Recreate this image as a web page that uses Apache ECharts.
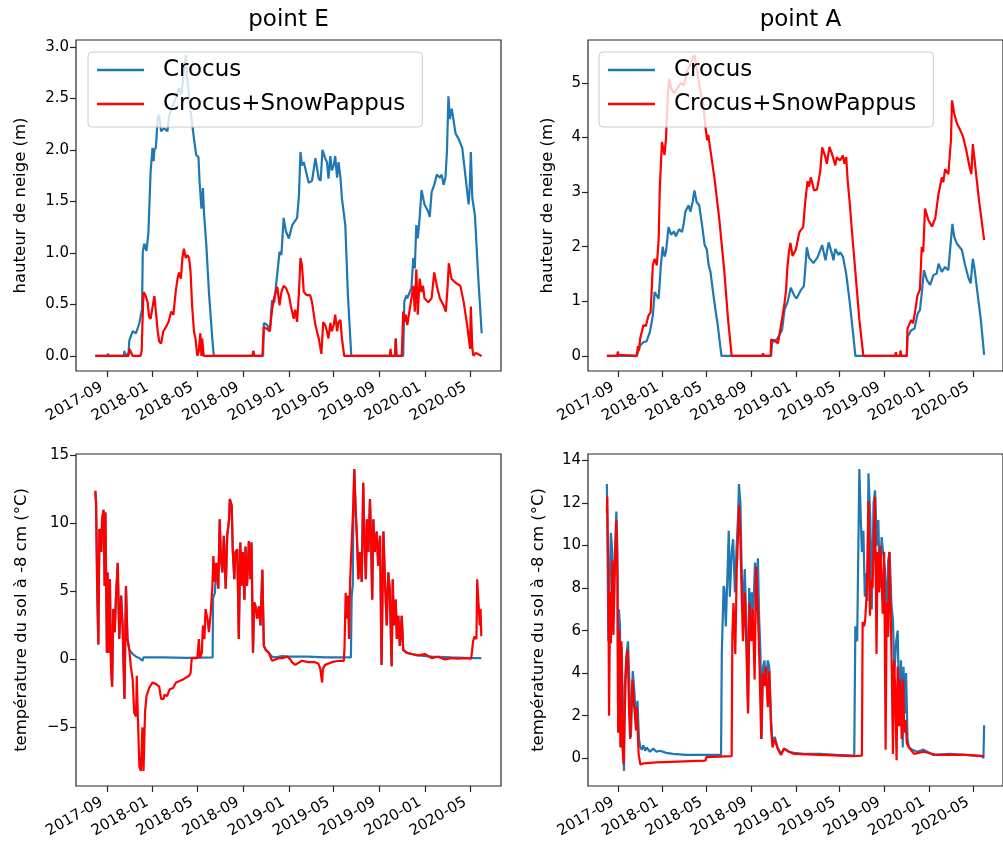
<!DOCTYPE html>
<html><head><meta charset="utf-8">
<script src="https://cdn.jsdelivr.net/npm/echarts@6/dist/echarts.min.js"></script>
<style>html,body{margin:0;padding:0;background:#fff}#c{width:1003px;height:848px}</style>
</head><body><div id="c"></div><script>
// ---- tick labels ----
const xTickLabels = ['2017-09','2018-01','2018-05','2018-09','2019-01','2019-05','2019-09','2020-01','2020-05'];
const yTicksSnowE = [0,0.5,1,1.5,2,2.5,3];
const yTicksSnowA = [0,1,2,3,4,5];
const yTicksTempE = [-5,0,5,10,15];
const yTicksTempA = [0,2,4,6,8,10,12,14];
const titles = ['point E','point A'];
const seriesNames = ['Crocus','Crocus+SnowPappus'];
const yLabelSnow = 'hauteur de neige (m)';
const yLabelTemp = 'température du sol à -8 cm (°C)';

// ---- snow depth, point E ----
const snowE_crocus = [['2017-08-01',0],['2017-09-01',0],['2017-09-04',0.02],['2017-09-07',0],['2017-10-16',0],['2017-10-18',0.05],['2017-10-20',0],['2017-10-29',0.03],['2017-10-31',0.15],['2017-11-05',0.2],['2017-11-09',0.24],['2017-11-18',0.22],['2017-11-27',0.32],['2017-12-01',0.4],['2017-12-04',0.45],['2017-12-06',1.01],['2017-12-10',1.09],['2017-12-16',1.02],['2017-12-21',1.19],['2017-12-27',1.79],['2018-01-01',2.02],['2018-01-04',1.89],['2018-01-06',2.0],['2018-01-10',2.02],['2018-01-15',2.31],['2018-01-19',2.34],['2018-01-24',2.18],['2018-02-01',2.21],['2018-02-10',2.18],['2018-02-15',2.34],['2018-02-23',2.41],['2018-03-04',2.5],['2018-03-13',2.6],['2018-03-20',2.54],['2018-03-26',2.76],['2018-03-31',2.92],['2018-04-04',2.7],['2018-04-13',2.37],['2018-04-22',2.11],['2018-04-28',1.95],['2018-05-04',1.93],['2018-05-07',1.69],['2018-05-12',1.43],['2018-05-16',1.63],['2018-05-19',1.38],['2018-05-25',1.08],['2018-06-01',0.62],['2018-06-10',0.17],['2018-06-14',0],
['2018-09-26',0],['2018-09-28',0.05],['2018-09-30',0],['2018-10-24',0],['2018-10-26',0.32],['2018-11-04',0.3],['2018-11-11',0.24],['2018-11-17',0.54],['2018-11-23',0.52],['2018-12-01',0.8],['2018-12-07',1.01],['2018-12-12',0.98],['2018-12-18',1.34],['2018-12-24',1.21],['2019-01-01',1.14],['2019-01-10',1.27],['2019-01-23',1.34],['2019-01-28',1.56],['2019-02-01',1.98],['2019-02-05',1.85],['2019-02-10',1.88],['2019-02-23',1.68],['2019-03-04',1.7],['2019-03-13',1.92],['2019-03-22',1.72],['2019-03-27',1.7],['2019-04-01',2.0],['2019-04-08',1.92],['2019-04-13',1.88],['2019-04-17',1.72],['2019-04-22',1.94],['2019-04-26',1.8],['2019-05-01',1.85],['2019-05-05',1.94],['2019-05-10',1.73],['2019-05-14',1.88],['2019-05-19',1.73],['2019-05-23',1.53],['2019-06-01',1.27],['2019-06-08',0.59],['2019-06-17',0],
['2019-10-12',0],['2019-10-14',0.17],['2019-10-16',0],['2019-11-03',0],['2019-11-06',0.53],['2019-11-12',0.59],['2019-11-14',0.56],['2019-11-25',0.66],['2019-11-30',0.95],['2019-12-04',0.85],['2019-12-08',1.27],['2019-12-12',1.14],['2019-12-17',1.34],['2019-12-22',1.61],['2019-12-30',1.47],['2020-01-09',1.4],['2020-01-13',1.35],['2020-01-18',1.59],['2020-01-25',1.66],['2020-02-01',1.76],['2020-02-09',1.73],['2020-02-14',1.76],['2020-02-19',1.66],['2020-02-24',1.73],['2020-02-28',1.98],['2020-03-03',2.52],['2020-03-07',2.3],['2020-03-12',2.4],['2020-03-22',2.16],['2020-03-31',2.1],['2020-04-09',2.02],['2020-04-18',1.73],['2020-04-26',1.47],['2020-04-29',1.63],['2020-05-02',1.98],['2020-05-06',1.53],['2020-05-13',1.36],['2020-05-22',0.75],['2020-05-31',0.22]];
const snowE_pappus = [['2017-08-01',0],['2017-10-29',0],['2017-10-31',0.07],['2017-11-09',0],['2017-11-30',0],['2017-12-03',0.05],['2017-12-05',0.3],['2017-12-08',0.62],['2017-12-13',0.59],['2017-12-19',0.52],['2017-12-23',0.38],['2017-12-27',0.36],['2018-01-01',0.37],['2018-01-06',0.58],['2018-01-10',0.57],['2018-01-15',0.24],['2018-01-19',0.14],['2018-01-24',0.12],['2018-01-30',0.24],['2018-02-06',0.28],['2018-02-13',0.33],['2018-02-20',0.43],['2018-02-26',0.4],['2018-03-04',0.62],['2018-03-09',0.75],['2018-03-13',0.81],['2018-03-18',0.75],['2018-03-22',0.95],['2018-03-26',1.04],['2018-03-31',0.95],['2018-04-04',0.98],['2018-04-09',0.95],['2018-04-13',0.81],['2018-04-17',0.49],['2018-04-22',0.24],['2018-04-26',0.17],['2018-05-01',0],['2018-05-05',0.05],['2018-05-09',0.22],['2018-05-12',0],['2018-05-14',0.17],['2018-05-18',0],
['2018-09-26',0],['2018-09-28',0.05],['2018-09-30',0],['2018-10-22',0],['2018-10-26',0.28],['2018-11-04',0.26],['2018-11-11',0.24],['2018-11-17',0.45],['2018-11-23',0.57],['2018-12-01',0.67],['2018-12-07',0.49],['2018-12-12',0.62],['2018-12-18',0.68],['2018-12-24',0.66],['2019-01-01',0.59],['2019-01-06',0.49],['2019-01-14',0.36],['2019-01-18',0.45],['2019-01-23',0.33],['2019-01-28',0.62],['2019-02-01',0.95],['2019-02-05',0.88],['2019-02-10',0.62],['2019-02-18',0.59],['2019-02-27',0.59],['2019-03-04',0.52],['2019-03-13',0.3],['2019-03-22',0.17],['2019-03-29',0.02],['2019-04-03',0.33],['2019-04-08',0.3],['2019-04-13',0.24],['2019-04-17',0.17],['2019-04-22',0.32],['2019-04-26',0.24],['2019-05-01',0.3],['2019-05-05',0.4],['2019-05-10',0.24],['2019-05-14',0.33],['2019-05-19',0.35],['2019-05-23',0.17],['2019-05-29',0],
['2019-09-28',0],['2019-09-30',0.07],['2019-10-02',0],['2019-10-12',0],['2019-10-14',0.17],['2019-10-16',0],['2019-10-30',0],['2019-11-03',0.43],['2019-11-06',0.33],['2019-11-10',0.4],['2019-11-14',0.3],['2019-11-22',0.49],['2019-11-30',0.68],['2019-12-04',0.43],['2019-12-08',0.84],['2019-12-12',0.4],['2019-12-17',0.75],['2019-12-22',0.62],['2019-12-26',0.68],['2019-12-30',0.56],['2020-01-09',0.52],['2020-01-18',0.56],['2020-01-25',0.81],['2020-02-01',0.68],['2020-02-09',0.56],['2020-02-19',0.49],['2020-02-25',0.43],['2020-03-01',0.68],['2020-03-04',0.9],['2020-03-11',0.75],['2020-03-22',0.71],['2020-04-04',0.68],['2020-04-13',0.52],['2020-04-22',0.3],['2020-04-30',0.07],['2020-05-01',0.3],['2020-05-02',0.48],['2020-05-06',0.07],['2020-05-09',0],['2020-05-15',0.03],['2020-05-31',0]];

// ---- snow depth, point A ----
const snowA_crocus = [['2017-08-01',0],['2017-10-22',0],['2017-10-31',0.19],['2017-11-09',0.25],['2017-11-18',0.27],['2017-11-27',0.44],['2017-12-05',0.74],['2017-12-10',1.17],['2017-12-16',1.1],['2017-12-21',1.05],['2017-12-27',1.66],['2018-01-01',2.0],['2018-01-06',1.82],['2018-01-10',1.9],['2018-01-17',2.36],['2018-01-24',2.22],['2018-02-01',2.28],['2018-02-06',2.19],['2018-02-15',2.32],['2018-02-23',2.27],['2018-02-28',2.44],['2018-03-04',2.64],['2018-03-13',2.76],['2018-03-18',2.64],['2018-03-24',2.82],['2018-03-29',3.03],['2018-04-04',2.82],['2018-04-11',2.76],['2018-04-19',2.39],['2018-04-26',2.03],['2018-05-02',1.95],['2018-05-07',1.66],['2018-05-12',1.54],['2018-05-19',1.17],['2018-05-25',0.87],['2018-06-01',0.56],['2018-06-11',0],
['2018-10-25',0],['2018-10-28',0.25],['2018-11-10',0.3],['2018-11-24',0.47],['2018-12-01',0.85],['2018-12-09',0.98],['2018-12-18',1.25],['2018-12-28',1.1],['2019-01-03',1.05],['2019-01-14',1.2],['2019-01-23',1.28],['2019-01-27',1.62],['2019-01-31',1.99],['2019-02-06',1.8],['2019-02-18',1.7],['2019-03-01',1.8],['2019-03-14',2.03],['2019-03-23',1.75],['2019-04-01',2.08],['2019-04-10',1.87],['2019-04-14',1.75],['2019-04-19',1.96],['2019-04-28',1.85],['2019-05-02',1.9],['2019-05-10',1.82],['2019-05-19',1.5],['2019-05-28',1.02],['2019-06-06',0.47],['2019-06-13',0],
['2019-11-01',0],['2019-11-03',0.35],['2019-11-13',0.47],['2019-11-22',0.5],['2019-12-01',0.78],['2019-12-07',0.84],['2019-12-12',1.14],['2019-12-18',1.57],['2019-12-26',1.39],['2020-01-04',1.3],['2020-01-13',1.48],['2020-01-22',1.51],['2020-01-27',1.69],['2020-02-05',1.54],['2020-02-14',1.63],['2020-02-23',1.57],['2020-03-01',2.12],['2020-03-05',2.42],['2020-03-10',2.18],['2020-03-17',2.06],['2020-03-31',1.94],['2020-04-08',1.69],['2020-04-17',1.45],['2020-04-24',1.33],['2020-04-30',1.78],['2020-05-04',1.63],['2020-05-13',1.14],['2020-05-22',0.66],['2020-05-31',0.02]];
const snowA_pappus = [['2017-08-01',0],['2017-08-29',0],['2017-08-31',0.08],['2017-09-02',0.02],['2017-09-06',0],['2017-10-22',0],['2017-10-25',0.18],['2017-10-28',0.1],['2017-10-31',0.31],['2017-11-09',0.56],['2017-11-16',0.55],['2017-11-23',0.74],['2017-11-29',0.8],['2017-12-05',1.66],['2017-12-10',1.78],['2017-12-16',1.66],['2017-12-21',2.15],['2017-12-24',3.06],['2017-12-30',3.92],['2018-01-06',3.68],['2018-01-10',3.98],['2018-01-15',4.77],['2018-01-19',5.08],['2018-01-24',4.9],['2018-02-01',4.81],['2018-02-10',4.9],['2018-02-20',5.0],['2018-02-28',4.95],['2018-03-09',5.22],['2018-03-18',5.34],['2018-03-24',5.45],['2018-03-29',5.51],['2018-04-04',5.27],['2018-04-13',4.9],['2018-04-22',4.6],['2018-04-28',4.2],['2018-05-03',3.95],['2018-05-06',4.05],['2018-05-10',3.85],['2018-05-23',3.25],['2018-06-05',2.51],['2018-06-19',1.54],['2018-06-29',0.68],['2018-07-09',0],
['2018-10-01',0],['2018-10-03',0.05],['2018-10-05',0],['2018-10-24',0],['2018-10-25',0.3],['2018-11-04',0.28],['2018-11-13',0.23],['2018-11-22',0.59],['2018-11-26',0.57],['2018-12-01',0.97],['2018-12-05',1.2],['2018-12-09',1.64],['2018-12-13',1.9],['2018-12-17',2.07],['2018-12-23',1.83],['2019-01-01',1.95],['2019-01-10',2.25],['2019-01-14',2.3],['2019-01-21',2.36],['2019-01-27',2.85],['2019-02-02',3.2],['2019-02-06',3.1],['2019-02-11',3.27],['2019-02-20',3.03],['2019-02-28',3.05],['2019-03-09',3.39],['2019-03-14',3.82],['2019-03-23',3.64],['2019-03-27',3.52],['2019-04-03',3.83],['2019-04-10',3.7],['2019-04-19',3.49],['2019-04-23',3.64],['2019-05-02',3.58],['2019-05-10',3.67],['2019-05-14',3.52],['2019-05-19',3.64],['2019-05-23',3.21],['2019-05-28',2.85],['2019-06-06',2.1],['2019-06-15',1.39],['2019-06-24',0.66],['2019-07-05',0],
['2019-09-30',0],['2019-10-02',0.07],['2019-10-04',0],['2019-10-13',0],['2019-10-15',0.1],['2019-10-17',0],['2019-11-01',0],['2019-11-03',0.5],['2019-11-13',0.66],['2019-11-18',0.6],['2019-11-23',0.78],['2019-11-30',1.1],['2019-12-07',1.22],['2019-12-12',2.0],['2019-12-16',1.9],['2019-12-21',2.7],['2019-12-30',2.49],['2020-01-09',2.37],['2020-01-18',2.52],['2020-01-27',2.97],['2020-02-05',3.27],['2020-02-09',3.18],['2020-02-14',3.42],['2020-02-23',3.33],['2020-03-01',3.95],['2020-03-04',4.68],['2020-03-10',4.44],['2020-03-17',4.26],['2020-03-26',4.14],['2020-04-03',4.02],['2020-04-12',3.77],['2020-04-21',3.46],['2020-04-26',3.33],['2020-04-30',3.88],['2020-05-04',3.64],['2020-05-10',3.27],['2020-05-17',2.85],['2020-05-31',2.12]];

// ---- soil temperature, point E (segments where both runs coincide are shared) ----
const tempE_summer2017 = [['2017-08-01',12.4],['2017-08-03',11.5],['2017-08-06',5.4],['2017-08-09',1.1],['2017-08-12',9.6],['2017-08-17',7.9],['2017-08-19',10.3],['2017-08-23',11.0],['2017-08-26',5.4],['2017-08-28',10.8],['2017-09-01',0.5],['2017-09-03',6.4],['2017-09-06',0.5],['2017-09-09',5.9],['2017-09-12',-0.5],['2017-09-15',-2.0],['2017-09-18',3.7],['2017-09-22',2.0],['2017-09-25',4.4],['2017-09-30',7.1],['2017-10-04',1.5],['2017-10-09',4.7],['2017-10-13',2.5],['2017-10-18',-2.9],['2017-10-22',5.4],['2017-10-26',1.5],['2017-10-31',0.7]];
const tempE_crocus_winter2018 = [['2017-11-04',0.6],['2017-11-09',0.4],['2017-11-18',0.2],['2017-11-27',0.1],['2017-12-01',0.0],['2017-12-05',-0.1],['2017-12-08',0.15],['2018-02-01',0.15],['2018-04-01',0.12],['2018-06-11',0.15],['2018-06-12',4.5],['2018-06-17',4.9]];
const tempE_pappus_winter2018 = [['2017-11-04',-0.5],['2017-11-09',-1.5],['2017-11-13',-3.9],['2017-11-18',-4.2],['2017-11-20',-1.2],['2017-11-23',-4.4],['2017-11-27',-7.9],['2017-12-01',-8.2],['2017-12-05',-5.0],['2017-12-08',-8.2],['2017-12-12',-3.9],['2017-12-16',-2.7],['2017-12-23',-2.1],['2018-01-01',-1.7],['2018-01-10',-1.8],['2018-01-19',-2.0],['2018-01-24',-2.9],['2018-01-31',-2.9],['2018-02-02',-2.6],['2018-02-09',-2.7],['2018-02-16',-2.2],['2018-02-25',-2.1],['2018-03-05',-1.7],['2018-03-22',-1.5],['2018-04-09',-1.2],['2018-04-13',-1.0],['2018-04-16',0.1],['2018-05-01',0.1],['2018-05-05',1.5],['2018-05-08',0.1],['2018-05-13',0.5],['2018-05-16',2.5],['2018-05-20',1.5],['2018-05-23',3.7],['2018-05-28',3.0],['2018-06-01',2.0],['2018-06-06',3.5],['2018-06-10',5.2],['2018-06-13',7.6],['2018-06-17',5.7]];
const tempE_summer2018 = [['2018-06-21',7.1],['2018-06-26',5.2],['2018-06-30',10.3],['2018-07-03',7.4],['2018-07-07',6.4],['2018-07-11',9.1],['2018-07-16',5.2],['2018-07-20',9.1],['2018-07-25',10.3],['2018-07-27',11.8],['2018-08-01',11.3],['2018-08-04',7.9],['2018-08-08',5.9],['2018-08-11',7.9],['2018-08-16',8.1],['2018-08-20',1.5],['2018-08-24',8.6],['2018-08-27',5.4],['2018-08-31',7.9],['2018-09-04',4.4],['2018-09-07',8.3],['2018-09-11',5.4],['2018-09-16',8.7],['2018-09-20',5.9],['2018-09-23',8.6],['2018-09-27',0.5],['2018-09-30',4.2],['2018-10-04',3.9],['2018-10-08',3.0],['2018-10-13',3.9],['2018-10-17',2.5],['2018-10-22',6.6],['2018-10-26',1.0],['2018-10-31',0.7],['2018-11-08',0.5]];
const tempE_crocus_winter2019 = [['2018-11-17',0.2],['2018-11-26',0.15],['2018-12-14',0.25],['2019-01-05',0.2],['2019-02-20',0.2],['2019-04-10',0.15],['2019-06-16',0.15],['2019-06-18',4.6],['2019-06-21',5.5]];
const tempE_pappus_winter2019 = [['2018-11-17',-0.1],['2018-11-26',0.0],['2018-12-05',0.1],['2018-12-14',0.1],['2018-12-28',0.2],['2019-01-05',0.0],['2019-01-09',-0.2],['2019-01-18',-0.4],['2019-02-05',-0.1],['2019-02-22',-0.2],['2019-03-12',-0.2],['2019-03-21',-0.3],['2019-03-26',-0.7],['2019-03-31',-1.7],['2019-04-02',-0.7],['2019-04-08',-0.4],['2019-04-26',-0.2],['2019-05-14',-0.1],['2019-05-28',-0.1],['2019-05-30',1.0],['2019-06-02',4.9],['2019-06-05',3.0],['2019-06-08',4.7],['2019-06-11',1.5],['2019-06-14',5.9],['2019-06-18',5.9]];
const tempE_summer2019 = [['2019-06-23',11.8],['2019-06-25',14.0],['2019-06-29',10.8],['2019-07-02',9.1],['2019-07-06',5.9],['2019-07-10',7.9],['2019-07-15',5.7],['2019-07-19',13.0],['2019-07-22',9.1],['2019-07-26',5.9],['2019-07-29',10.3],['2019-08-02',7.9],['2019-08-06',11.8],['2019-08-09',8.8],['2019-08-12',4.4],['2019-08-15',10.3],['2019-08-19',7.9],['2019-08-24',9.4],['2019-08-28',6.9],['2019-09-02',9.1],['2019-09-06',-0.4],['2019-09-11',9.4],['2019-09-15',5.9],['2019-09-20',2.5],['2019-09-24',6.4],['2019-09-28',5.2],['2019-10-03',-0.5],['2019-10-06',5.9],['2019-10-09',2.5],['2019-10-14',4.4],['2019-10-17',1.5],['2019-10-21',3.2],['2019-10-25',1.0],['2019-10-30',3.2],['2019-11-03',0.7]];
const tempE_crocus_winter2020 = [['2019-11-12',0.5],['2019-11-25',0.4],['2019-12-13',0.3],['2020-01-18',0.2],['2020-03-11',0.15],['2020-04-15',0.12],['2020-05-30',0.1]];
const tempE_pappus_winter2020 = [['2019-11-12',0.5],['2019-11-25',0.4],['2019-12-13',0.3],['2019-12-31',0.4],['2020-01-18',0.1],['2020-02-04',0.2],['2020-02-22',0.0],['2020-03-11',0.1],['2020-03-29',0.05],['2020-04-15',0.1],['2020-05-03',0.05],['2020-05-08',1.35],['2020-05-12',1.7],['2020-05-17',1.5],['2020-05-19',5.9],['2020-05-23',3.9],['2020-05-26',2.5],['2020-05-28',3.7],['2020-05-30',1.7]];

// ---- soil temperature, point A ----
const tempA_crocus = [['2017-08-01',12.9],['2017-08-02',11.55],['2017-08-05',5.5],['2017-08-12',10.6],['2017-08-16',9.7],['2017-08-19',6.5],['2017-08-23',9.3],['2017-08-27',11.6],['2017-08-30',9.7],['2017-09-01',1.5],['2017-09-03',7.0],['2017-09-06',6.2],['2017-09-08',1.2],['2017-09-11',5.2],['2017-09-14',0.9],['2017-09-17',-0.6],['2017-09-19',3.4],['2017-09-24',4.9],['2017-09-28',5.5],['2017-10-02',3.4],['2017-10-06',1.0],['2017-10-11',4.1],['2017-10-15',3.2],['2017-10-20',1.8],['2017-10-24',2.7],['2017-10-28',0.9],['2017-11-01',0.5],['2017-11-05',0.4],['2017-11-09',0.6],['2017-11-14',0.35],['2017-11-18',0.5],['2017-11-27',0.3],['2017-12-06',0.45],['2017-12-15',0.3],['2017-12-24',0.35],['2018-01-11',0.25],['2018-01-29',0.2],['2018-03-06',0.15],['2018-04-20',0.15],['2018-06-10',0.15],['2018-06-12',4.9],['2018-06-17',8.1],['2018-06-19',8.0],['2018-06-23',6.2],['2018-06-28',8.9],['2018-07-01',10.7],['2018-07-04',7.6],['2018-07-09',9.7],['2018-07-13',10.3],['2018-07-18',7.8],['2018-07-22',9.7],['2018-07-27',11.55],['2018-07-29',12.9],['2018-08-02',12.0],['2018-08-05',9.2],['2018-08-09',6.8],['2018-08-14',8.9],['2018-08-18',6.5],['2018-08-23',2.3],['2018-08-26',8.0],['2018-08-30',6.5],['2018-09-02',7.8],['2018-09-06',6.7],['2018-09-11',9.2],['2018-09-14',7.8],['2018-09-19',9.4],['2018-09-22',6.8],['2018-09-26',4.9],['2018-09-29',0.9],['2018-10-03',4.3],['2018-10-07',4.6],['2018-10-11',3.4],['2018-10-16',4.6],['2018-10-20',4.3],['2018-10-25',1.8],['2018-10-29',0.7],['2018-11-04',1.0],['2018-11-12',0.5],['2018-11-21',0.2],['2018-11-30',0.45],['2018-12-13',0.3],['2018-12-27',0.25],['2019-01-22',0.2],['2019-03-08',0.2],['2019-04-22',0.15],['2019-06-10',0.12],['2019-06-13',6.2],['2019-06-18',5.5],['2019-06-24',13.6],['2019-06-28',11.2],['2019-07-01',9.7],['2019-07-05',10.7],['2019-07-09',7.6],['2019-07-12',8.7],['2019-07-16',7.4],['2019-07-19',13.4],['2019-07-24',11.2],['2019-07-28',7.0],['2019-08-02',12.0],['2019-08-06',12.6],['2019-08-11',10.0],['2019-08-15',11.2],['2019-08-19',8.0],['2019-08-24',10.4],['2019-08-28',9.7],['2019-09-02',8.9],['2019-09-06',6.5],['2019-09-11',9.3],['2019-09-15',9.7],['2019-09-20',7.2],['2019-09-24',6.5],['2019-09-28',4.0],['2019-10-03',5.5],['2019-10-07',6.0],['2019-10-12',1.8],['2019-10-16',4.6],['2019-10-21',0.5],['2019-10-23',4.3],['2019-10-27',2.1],['2019-10-30',4.0],['2019-11-03',0.9],['2019-11-07',0.5],['2019-11-16',0.4],['2019-11-30',0.3],['2019-12-17',0.4],['2020-01-13',0.15],['2020-02-27',0.2],['2020-04-11',0.15],['2020-05-26',0.1],['2020-05-29',0.0],['2020-05-31',1.55]];
const tempA_pappus = [['2017-08-01',11.55],['2017-08-02',12.3],['2017-08-05',8.4],['2017-08-07',2.0],['2017-08-10',7.8],['2017-08-12',5.4],['2017-08-16',9.3],['2017-08-19',5.8],['2017-08-23',9.2],['2017-08-27',11.2],['2017-08-30',8.4],['2017-09-01',1.2],['2017-09-04',6.0],['2017-09-07',0.5],['2017-09-10',5.5],['2017-09-13',0.5],['2017-09-16',-0.3],['2017-09-19',2.1],['2017-09-23',4.6],['2017-09-27',5.1],['2017-10-01',2.1],['2017-10-04',0.9],['2017-10-10',3.7],['2017-10-15',2.4],['2017-10-20',1.3],['2017-10-22',2.4],['2017-10-27',0.2],['2017-11-01',-0.3],['2017-11-09',-0.25],['2017-12-15',-0.2],['2018-03-01',-0.15],['2018-04-28',-0.12],['2018-05-01',0.05],['2018-07-09',0.1],['2018-07-11',5.8],['2018-07-14',7.3],['2018-07-19',4.9],['2018-07-23',8.9],['2018-07-27',10.7],['2018-07-29',11.9],['2018-08-02',10.4],['2018-08-05',8.0],['2018-08-09',5.5],['2018-08-14',7.8],['2018-08-18',5.5],['2018-08-23',2.1],['2018-08-27',7.3],['2018-09-01',5.5],['2018-09-05',7.0],['2018-09-10',3.7],['2018-09-14',9.0],['2018-09-19',6.8],['2018-09-23',4.6],['2018-09-28',0.9],['2018-10-02',4.0],['2018-10-07',3.4],['2018-10-11',4.3],['2018-10-16',2.4],['2018-10-20',4.1],['2018-10-25',1.5],['2018-10-29',0.5],['2018-11-04',0.9],['2018-11-12',0.45],['2018-11-21',0.15],['2018-11-30',0.45],['2018-12-13',0.3],['2018-12-27',0.2],['2019-03-08',0.15],['2019-06-06',0.1],['2019-07-01',0.12],['2019-07-03',6.4],['2019-07-07',6.2],['2019-07-10',6.5],['2019-07-15',8.0],['2019-07-19',12.1],['2019-07-23',6.7],['2019-07-26',8.4],['2019-07-30',8.0],['2019-08-02',9.7],['2019-08-06',12.3],['2019-08-10',4.9],['2019-08-13',9.7],['2019-08-17',7.8],['2019-08-20',10.0],['2019-08-24',8.4],['2019-08-27',6.8],['2019-08-31',9.7],['2019-09-04',0.4],['2019-09-07',7.3],['2019-09-11',5.7],['2019-09-14',9.7],['2019-09-18',6.8],['2019-09-21',4.0],['2019-09-24',0.2],['2019-09-27',4.6],['2019-09-30',3.4],['2019-10-04',-0.1],['2019-10-07',4.3],['2019-10-11',1.5],['2019-10-14',3.7],['2019-10-18',0.9],['2019-10-22',3.7],['2019-10-25',1.2],['2019-10-29',1.8],['2019-11-01',0.7],['2019-11-07',0.5],['2019-11-21',0.2],['2019-12-17',0.3],['2020-01-22',0.15],['2020-04-11',0.15],['2020-05-26',0.1],['2020-05-31',0.1]];

// ---- assemble (built from the arrays above) ----
const tempE_crocus = [].concat(tempE_summer2017, tempE_crocus_winter2018, tempE_summer2018, tempE_crocus_winter2019, tempE_summer2019, tempE_crocus_winter2020);
const tempE_pappus = [].concat(tempE_summer2017, tempE_pappus_winter2018, tempE_summer2018, tempE_pappus_winter2019, tempE_summer2019, tempE_pappus_winter2020);

const BLUE = '#1f77b4', RED = '#ff0000', FONT = 'DejaVu Sans';
function ts(s){const p=s.split('-').map(Number);return Date.UTC(p[0],p[1]-1,p[2]||1);}
function toXY(a){return a.map(d=>[ts(d[0]),d[1]]);}
function pad(arrs,i){let mn=Infinity,mx=-Infinity;arrs.forEach(a=>a.forEach(d=>{const v=i===0?ts(d[0]):d[1];if(v<mn)mn=v;if(v>mx)mx=v;}));const r=mx-mn;return [mn-0.05*r,mx+0.05*r];}
const allSeries=[snowE_crocus,snowE_pappus,snowA_crocus,snowA_pappus,tempE_crocus,tempE_pappus,tempA_crocus,tempA_pappus];
const xExt = pad(allSeries,0);
const xTickVals = xTickLabels.map(ts);
const grids = [
  {left:76, top:40, width:425, height:331},
  {left:588, top:40, width:425, height:331},
  {left:76, top:454, width:425, height:332},
  {left:588, top:454, width:425, height:332}
].map(g=>Object.assign(g,{show:true,borderColor:'#262626',borderWidth:1.2,containLabel:false}));
const tickStyle={show:true,length:6,inside:false,lineStyle:{color:'#262626',width:1.2}};
function fmtNum(dec){return v=>{const s=Math.abs(v).toFixed(dec);return v<0?'\u2212'+s:s;};}
const xAxes=[0,1,2,3].map(gi=>({type:'value',gridIndex:gi,min:xExt[0],max:xExt[1],
  splitLine:{show:false},axisLine:{show:false,onZero:false},
  axisTick:Object.assign({customValues:xTickVals},tickStyle),
  axisLabel:{customValues:xTickVals,formatter:v=>xTickLabels[xTickVals.indexOf(v)],rotate:30,fontSize:15,fontFamily:FONT,color:'#000',margin:12,padding:[0,6,0,0]}}));
function yAxis(gi,arrs,ticks,dec,name,gap){const e=pad(arrs,1);return {type:'value',gridIndex:gi,min:e[0],max:e[1],
  splitLine:{show:false},axisLine:{show:false,onZero:false},
  axisTick:Object.assign({customValues:ticks},tickStyle),
  axisLabel:{customValues:ticks,formatter:fmtNum(dec),fontSize:15,fontFamily:FONT,color:'#000',margin:7},
  name:name,nameLocation:'middle',nameGap:gap,nameTextStyle:{fontSize:16.5,fontFamily:FONT,color:'#000'}};}
const yAxes=[
  yAxis(0,[snowE_crocus,snowE_pappus],yTicksSnowE,1,yLabelSnow,47),
  yAxis(1,[snowA_crocus,snowA_pappus],yTicksSnowA,0,yLabelSnow,32),
  yAxis(2,[tempE_crocus,tempE_pappus],yTicksTempE,0,yLabelTemp,46),
  yAxis(3,[tempA_crocus,tempA_pappus],yTicksTempA,0,yLabelTemp,41)
];
const pairs=[[snowE_crocus,snowE_pappus],[snowA_crocus,snowA_pappus],[tempE_crocus,tempE_pappus],[tempA_crocus,tempA_pappus]];
const series=[];
pairs.forEach((p,gi)=>{
  [BLUE,RED].forEach((c,k)=>series.push({type:'line',name:seriesNames[k],xAxisIndex:gi,yAxisIndex:gi,data:toXY(p[k]),
    showSymbol:false,symbol:'none',lineStyle:{color:c,width:2.2},itemStyle:{color:c},z:2+k,animation:false}));
});
function legend(left){return {left:left,top:52,orient:'vertical',data:seriesNames,icon:'rect',itemWidth:47,itemHeight:2.5,itemGap:8,
  selectedMode:false,textStyle:{fontSize:23,fontFamily:FONT,color:'#000',padding:[0,0,0,14],lineHeight:26},
  backgroundColor:'rgba(255,255,255,0.8)',borderColor:'#cccccc',borderWidth:1,borderRadius:4,padding:[5,17,10,9],z:10};}
const option={
  backgroundColor:'#fff',animation:false,
  title:[
    {text:titles[0],left:288.5,top:9,textAlign:'center',padding:0,textStyle:{fontSize:23,fontWeight:'normal',fontFamily:FONT,color:'#000'}},
    {text:titles[1],left:800.5,top:9,textAlign:'center',padding:0,textStyle:{fontSize:23,fontWeight:'normal',fontFamily:FONT,color:'#000'}}
  ],
  grid:grids,xAxis:xAxes,yAxis:yAxes,series:series,
  legend:[legend(88),legend(599)]
};
const chart=echarts.init(document.getElementById('c'),null,{renderer:'canvas'});
chart.setOption(option);
</script></body></html>
